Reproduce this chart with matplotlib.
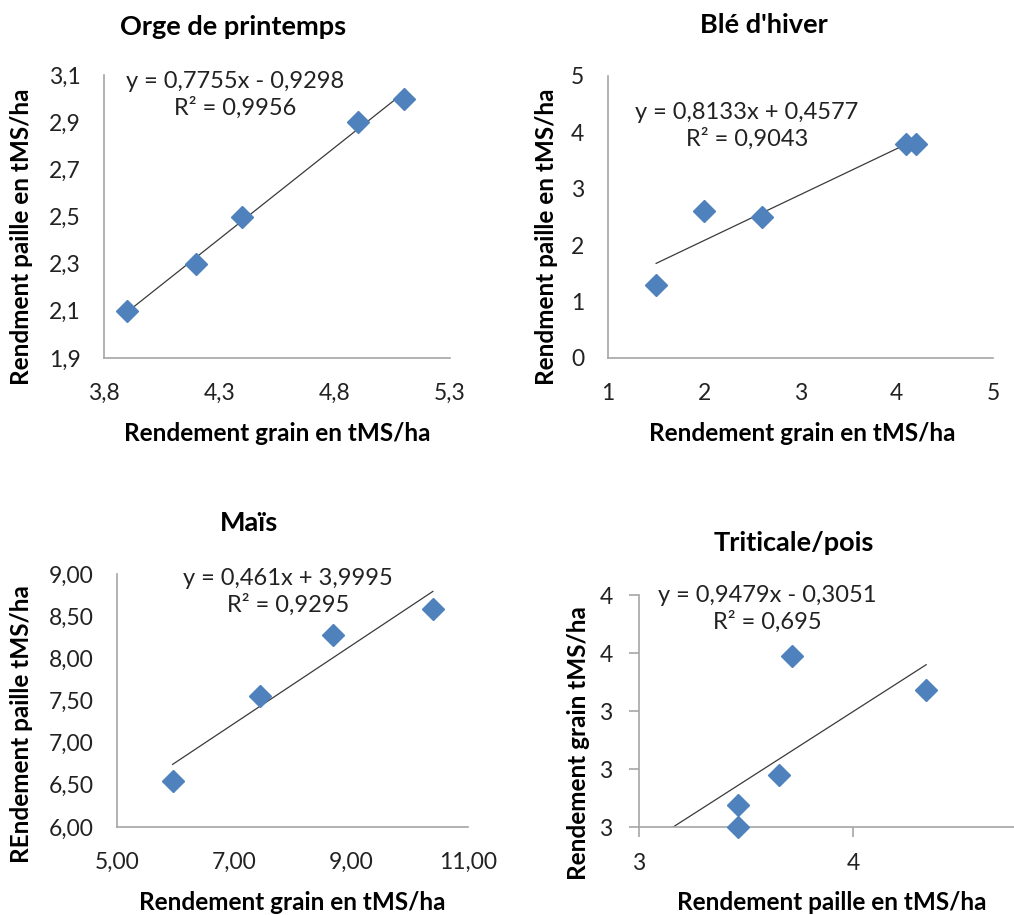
import numpy as np
import matplotlib
matplotlib.use("Agg")
import matplotlib.pyplot as plt
from matplotlib.ticker import FuncFormatter

plt.rcParams['font.family'] = ['Lato', 'DejaVu Sans']

# Orge de printemps: grain vs paille
orge_grain = [3.9, 4.2, 4.4, 4.9, 5.1]
orge_paille = [2.1, 2.3, 2.5, 2.9, 3.0]
orge_fit = (0.7755, -0.9298, 0.9956)

# Blé d'hiver
ble_grain = [1.5, 2.0, 2.6, 4.1, 4.2]
ble_paille = [1.3, 2.6, 2.5, 3.8, 3.8]
ble_fit = (0.8133, 0.4577, 0.9043)

# Maïs
mais_grain = [5.95, 7.45, 8.7, 10.4]
mais_paille = [6.55, 7.55, 8.28, 8.58]
mais_fit = (0.461, 3.9995, 0.9295)

# Triticale/pois: paille vs grain
tri_paille = [3.26, 3.26, 3.455, 3.515, 4.14]
tri_grain = [2.5, 2.65, 2.857, 3.677, 3.443]
tri_fit = (0.9479, -0.3051, 0.695)

W, H = 1014, 915
BLUE = '#4F81BD'
AXIS_GREY = '#A6A6A6'

fig = plt.figure(figsize=(W / 100, H / 100), dpi=100)


def box(left, top, right, bottom):
    # pixel box -> figure fraction rectangle
    return [left / W, 1 - bottom / H, (right - left) / W, (bottom - top) / H]


def at(x, y):
    return x / W, 1 - y / H


def num(v, nd):
    if nd == 0:
        return str(int(np.floor(v + 0.5 + 1e-9)))
    return f"{v:.{nd}f}".replace('.', ',')


def coef(v):
    return f"{v:.4f}".rstrip('0').replace('.', ',')


def panel(rect, x, y, fit, xlim, ylim, xticks, yticks, nd_x, nd_y,
          trend_from=None, ticks=False):
    ax = fig.add_axes(rect)
    slope, icpt, r2 = fit
    x0 = min(x) if trend_from is None else trend_from
    tx = np.array([x0, max(x)])
    ax.plot(tx, slope * tx + icpt, color='#3a3a3a', lw=0.9, zorder=2)
    ax.plot(x, y, ls='none', marker='D', ms=11, color=BLUE,
            mec=BLUE, clip_on=False, zorder=3)
    ax.set_xlim(*xlim)
    ax.set_ylim(*ylim)
    ax.set_xticks(xticks)
    ax.set_yticks(yticks)
    ax.xaxis.set_major_formatter(FuncFormatter(lambda v, p: num(v, nd_x)))
    ax.yaxis.set_major_formatter(FuncFormatter(lambda v, p: num(v, nd_y)))
    for s in ('top', 'right'):
        ax.spines[s].set_visible(False)
    for s in ('left', 'bottom'):
        ax.spines[s].set_color(AXIS_GREY)
        ax.spines[s].set_linewidth(1.2)
    if ticks:
        ax.tick_params(direction='out', length=7, width=1.2, color=AXIS_GREY)
        ax.tick_params(axis='x', pad=12)
        ax.tick_params(axis='y', pad=12)
    else:
        ax.tick_params(length=0)
        ax.tick_params(axis='x', pad=18)
        ax.tick_params(axis='y', pad=17)
    ax.tick_params(labelsize=16.5, labelcolor='#222222')
    sign = '-' if icpt < 0 else '+'
    eq = f"y = {coef(slope)}x {sign} {coef(abs(icpt))}\nR² = {coef(r2)}"
    return ax, eq


title_kw = dict(fontsize=19.5, fontweight='bold', ha='center', va='center')
label_kw = dict(fontsize=17.5, fontweight='bold', ha='center', va='center')
eq_kw = dict(fontsize=17, ha='center', va='center', linespacing=1.25,
             color='#222222')

# top left
ax1, eq1 = panel(box(104, 75, 450, 358), orge_grain, orge_paille, orge_fit,
                 (3.8, 5.3), (1.9, 3.1), np.arange(3.8, 5.31, 0.5),
                 np.arange(1.9, 3.11, 0.2), 1, 1)
fig.text(*at(233, 27), "Orge de printemps", **title_kw)
fig.text(*at(22, 237), "Rendment paille en tMS/ha", rotation=90, **label_kw)
fig.text(*at(277, 433), "Rendement grain en tMS/ha", **label_kw)
fig.text(*at(235, 95), eq1, **eq_kw)

# top right
ax2, eq2 = panel(box(608, 76, 993, 358), ble_grain, ble_paille, ble_fit,
                 (1, 5), (0, 5), np.arange(1, 6), np.arange(0, 6), 0, 0)
fig.text(*at(764, 25), "Blé d'hiver", **title_kw)
fig.text(*at(547, 237), "Rendment paille en tMS/ha", rotation=90, **label_kw)
fig.text(*at(802, 433), "Rendement grain en tMS/ha", **label_kw)
fig.text(*at(747, 126), eq2, **eq_kw)

# bottom left
ax3, eq3 = panel(box(117, 574, 468, 827), mais_grain, mais_paille, mais_fit,
                 (5, 11), (6, 9), np.arange(5, 11.1, 2), np.arange(6, 9.01, 0.5),
                 2, 2)
fig.text(*at(249, 523), "Maïs", **title_kw)
fig.text(*at(22, 724), "REndement paille tMS/ha", rotation=90, **label_kw)
fig.text(*at(292, 903), "Rendement grain en tMS/ha", **label_kw)
fig.text(*at(288, 592), eq3, **eq_kw)

# bottom right, cut at the right border
ax4, eq4 = panel(box(639, 595, 1014, 827), tri_paille, tri_grain, tri_fit,
                 (2.8, 2.8 + 375 / 214.3), (2.5, 4.1), [2.8, 3.8],
                 np.arange(2.5, 4.11, 0.4), 0, 0, trend_from=2.8, ticks=True)
fig.text(*at(794, 543), "Triticale/pois", **title_kw)
fig.text(*at(578, 743), "Rendement grain tMS/ha", rotation=90, **label_kw)
fig.text(*at(832, 903), "Rendement paille en tMS/ha", **label_kw)
fig.text(*at(767, 609), eq4, **eq_kw)

fig.savefig("out.png", dpi=100)
